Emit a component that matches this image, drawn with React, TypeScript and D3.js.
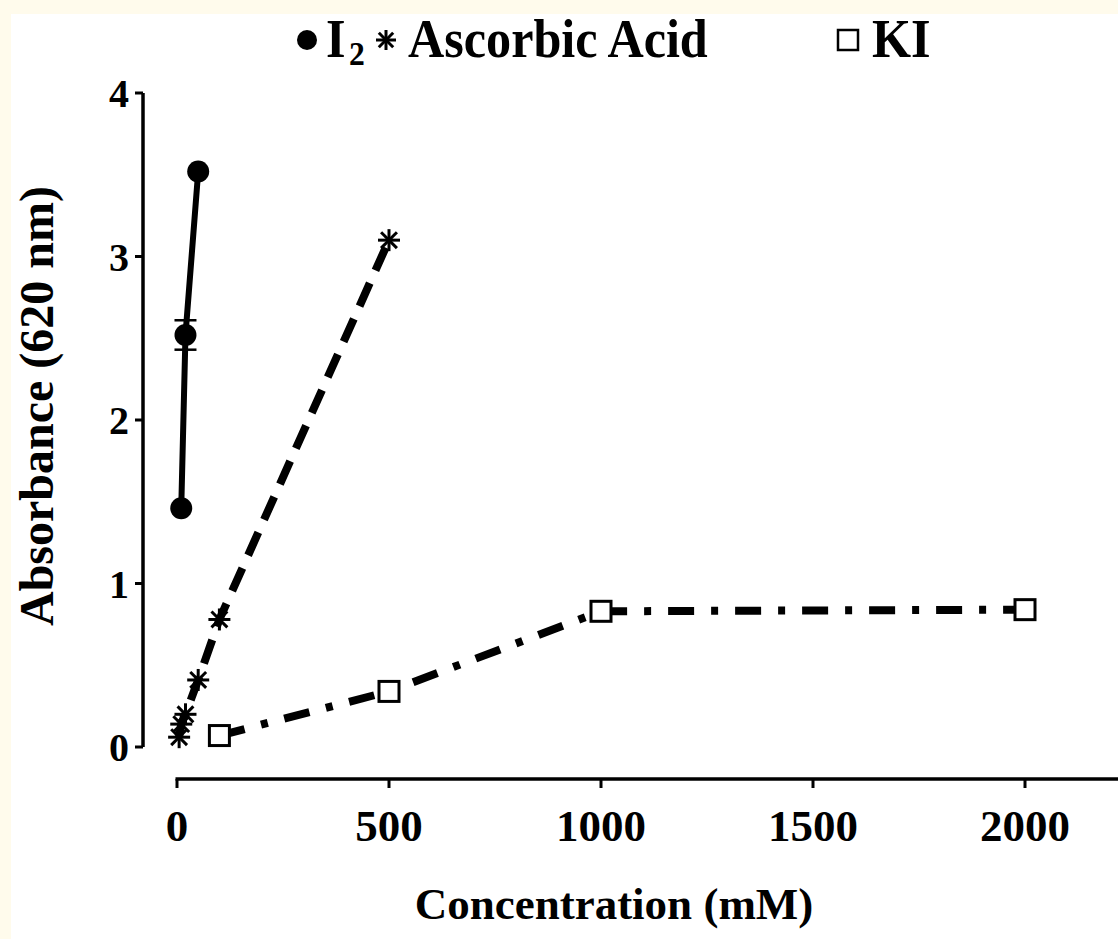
import React from "react"
import * as d3 from "d3"

// Concentrations (mM) and absorbance at 620 nm
const I2_CONC = [10, 20, 50]
const I2_ABS = [1.46, 2.52, 3.52]
const I2_ERR = [0, 0.09, 0]

const AA_CONC = [5, 10, 20, 50, 100, 500]
const AA_ABS = [0.06, 0.14, 0.2, 0.41, 0.78, 3.1]

const KI_CONC = [100, 500, 1000, 2000]
const KI_ABS = [0.07, 0.34, 0.83, 0.84]

const X_TICKS = [0, 500, 1000, 1500, 2000]
const Y_TICKS = [0, 1, 2, 3, 4]

const WIDTH = 1118
const HEIGHT = 939
const FONT = "'Liberation Serif', 'Times New Roman', serif"

function Star({ x, y, r = 11, sw = 3 }: { x: number; y: number; r?: number; sw?: number }) {
  const d = r * 0.72
  return (
    <g stroke="#000" strokeWidth={sw} strokeLinecap="butt">
      <line x1={x} y1={y - r} x2={x} y2={y + r} />
      <line x1={x - d} y1={y - d} x2={x + d} y2={y + d} />
      <line x1={x - d} y1={y + d} x2={x + d} y2={y - d} />
      <line x1={x - r} y1={y} x2={x + r} y2={y} />
    </g>
  )
}

// legend text is a little condensed in the original
function LegendText({ x, y, size, children }: { x: number; y: number; size: number; children: React.ReactNode }) {
  return (
    <text transform={`translate(${x}, ${y}) scale(0.93, 1)`} fontSize={size}>
      {children}
    </text>
  )
}

export default function App() {
  const x = d3.scaleLinear().domain([0, 2000]).range([177, 1025])
  const y = d3.scaleLinear().domain([0, 4]).range([747, 93])

  const line = d3
    .line<[number, number]>()
    .x(d => x(d[0]))
    .y(d => y(d[1]))

  const i2 = I2_CONC.map((c, i) => [c, I2_ABS[i]] as [number, number])
  const aa = AA_CONC.map((c, i) => [c, AA_ABS[i]] as [number, number])
  const ki = KI_CONC.map((c, i) => [c, KI_ABS[i]] as [number, number])

  const yAxisX = 143
  const xAxisY = 779

  return (
    <svg
      width={WIDTH}
      height={HEIGHT}
      style={{ position: "absolute", left: 0, top: 0, display: "block" }}
      fontFamily={FONT}
      fontWeight="bold"
    >
      <rect x={0} y={0} width={WIDTH} height={HEIGHT} fill="#fffbec" />
      <rect x={11} y={14} width={WIDTH - 11} height={HEIGHT - 14} fill="#fff" />

      {/* Legend */}
      <g>
        <circle cx={307} cy={40} r={10} fill="#000" />
        <LegendText x={326} y={57} size={54}>I</LegendText>
        <LegendText x={349} y={65} size={34}>2</LegendText>
        <Star x={386} y={40} r={10} sw={3} />
        <LegendText x={408} y={57} size={54}>Ascorbic Acid</LegendText>
        <rect x={838} y={30} width={20} height={20} fill="#fff" stroke="#000" strokeWidth={2.5} />
        <LegendText x={872} y={57} size={54}>KI</LegendText>
      </g>

      {/* Y axis */}
      <line x1={yAxisX} x2={yAxisX} y1={y(4)} y2={y(0)} stroke="#000" strokeWidth={3.5} />
      {Y_TICKS.map(t => (
        <g key={t}>
          <line x1={yAxisX - 8} x2={yAxisX} y1={y(t)} y2={y(t)} stroke="#000" strokeWidth={3} />
          <text x={129} y={y(t) + 14} fontSize={40} textAnchor="end">
            {t}
          </text>
        </g>
      ))}
      <text
        transform={`translate(53, 406) rotate(-90)`}
        fontSize={48}
        textAnchor="middle"
      >
        Absorbance (620 nm)
      </text>

      {/* X axis */}
      <line x1={x(0) - 1.5} x2={WIDTH} y1={xAxisY} y2={xAxisY} stroke="#000" strokeWidth={3.5} />
      {X_TICKS.map(t => (
        <g key={t}>
          <line x1={x(t)} x2={x(t)} y1={xAxisY} y2={xAxisY + 9} stroke="#000" strokeWidth={3} />
          <text x={x(t)} y={841} fontSize={45} textAnchor="middle">
            {t}
          </text>
        </g>
      ))}
      <text x={614} y={919} fontSize={45} textAnchor="middle">
        Concentration (mM)
      </text>

      {/* Series lines */}
      <path d={line(i2) ?? ""} fill="none" stroke="#000" strokeWidth={6} />
      <path
        d={line(aa) ?? ""}
        fill="none"
        stroke="#000"
        strokeWidth={8}
        strokeDasharray="25 14"
      />
      <path
        d={line(ki) ?? ""}
        fill="none"
        stroke="#000"
        strokeWidth={8}
        strokeDasharray="26 17 7 17"
      />

      {/* I2 error bars + markers */}
      {i2.map(([c, v], i) =>
        I2_ERR[i] > 0 ? (
          <g key={"e" + i} stroke="#000" strokeWidth={2.5}>
            <line x1={x(c)} x2={x(c)} y1={y(v - I2_ERR[i])} y2={y(v + I2_ERR[i])} />
            <line x1={x(c) - 11} x2={x(c) + 11} y1={y(v - I2_ERR[i])} y2={y(v - I2_ERR[i])} />
            <line x1={x(c) - 11} x2={x(c) + 11} y1={y(v + I2_ERR[i])} y2={y(v + I2_ERR[i])} />
          </g>
        ) : null
      )}
      {i2.map(([c, v], i) => (
        <circle key={"c" + i} cx={x(c)} cy={y(v)} r={11} fill="#000" />
      ))}

      {aa.map(([c, v], i) => (
        <Star key={"s" + i} x={x(c)} y={y(v)} r={11} sw={3} />
      ))}

      {ki.map(([c, v], i) => (
        <rect
          key={"k" + i}
          x={x(c) - 10}
          y={y(v) - 10}
          width={20}
          height={20}
          fill="#fff"
          stroke="#000"
          strokeWidth={3}
        />
      ))}
    </svg>
  )
}
